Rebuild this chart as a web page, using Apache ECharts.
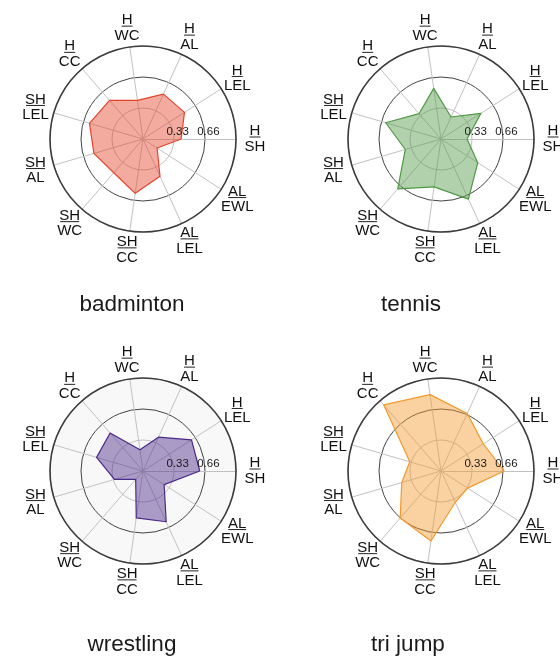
<!DOCTYPE html>
<html>
<head>
<meta charset="utf-8">
<script src="https://cdn.jsdelivr.net/npm/echarts/dist/echarts.min.js"></script>
<style>
  html, body { margin: 0; padding: 0; background: #ffffff; }
  #chart { width: 560px; height: 662px; }
</style>
</head>
<body>
<div id="chart"></div>
<script>
// Ratio axes, listed counter-clockwise starting from the right (H/SH)
const indicatorNames = ['H/SH', 'H/LEL', 'H/AL', 'H/WC', 'H/CC', 'SH/LEL', 'SH/AL', 'SH/WC', 'SH/CC', 'AL/LEL', 'AL/EWL'];

const sportNames = ['badminton', 'tennis', 'wrestling', 'tri jump'];

const badminton = [0.41, 0.53, 0.53, 0.42, 0.55, 0.60, 0.55, 0.48, 0.59, 0.44, 0.18];
const tennis    = [0.28, 0.51, 0.26, 0.55, 0.36, 0.62, 0.40, 0.71, 0.52, 0.71, 0.47];
const wrestling = [0.61, 0.62, 0.40, 0.23, 0.54, 0.52, 0.32, 0.12, 0.51, 0.60, 0.27];
const triJump   = [0.68, 0.54, 0.68, 0.83, 0.94, 0.35, 0.44, 0.67, 0.76, 0.37, 0.34];

const ringTicks = [0.33, 0.66];

const sportValues = [badminton, tennis, wrestling, triJump];
const lineColors = ['#e5442c', '#4f9a45', '#4b2a8a', '#f39a2e'];
const plateFill  = [null, null, '#f8f8f8', null];

// panel placement
const panels = [
  { cx: 143, cy: 139, tx: 132, ty: 305 },
  { cx: 441, cy: 139, tx: 411, ty: 305 },
  { cx: 143, cy: 471, tx: 132, ty: 645 },
  { cx: 441, cy: 471, tx: 408, ty: 645 }
];
const R = 93;
const FONT = '"Liberation Sans", Arial, Helvetica, sans-serif';

const chart = echarts.init(document.getElementById('chart'), null, { renderer: 'canvas' });

const labelRich = {
  n:   { fontSize: 15, lineHeight: 10, align: 'center', color: '#111', fontFamily: FONT },
  d:   { fontSize: 15, lineHeight: 17, align: 'center', color: '#111', fontFamily: FONT },
  uH:  { width: 11, height: 1, lineHeight: 2, fontSize: 1, backgroundColor: '#222', align: 'center' },
  uSH: { width: 19, height: 1, lineHeight: 2, fontSize: 1, backgroundColor: '#222', align: 'center' },
  uAL: { width: 18, height: 1, lineHeight: 2, fontSize: 1, backgroundColor: '#222', align: 'center' }
};

function fractionLabel(name) {
  const parts = name.split('/');
  return '{n|' + parts[0] + '}\n{u' + parts[0] + '| }\n{d|' + parts[1] + '}';
}

const radar = [], polar = [], angleAxis = [], radiusAxis = [], series = [], graphic = [];

panels.forEach(function (p, i) {
  radar.push({
    center: [p.cx, p.cy],
    radius: R,
    startAngle: 0,
    shape: 'circle',
    splitNumber: 3,
    indicator: indicatorNames.map(function (n) { return { name: n, min: 0, max: 1 }; }),
    axisName: {
      formatter: function (value) { return fractionLabel(value); },
      rich: labelRich,
      color: '#111',
      fontFamily: FONT,
      align: 'center',
      verticalAlign: 'middle',
      padding: [3, 0, 0, 0]
    },
    nameGap: 19,
    axisLine: { lineStyle: { color: '#c2c2c2', width: 1 } },
    splitLine: { lineStyle: { color: ['#c0c0c0', '#c0c0c0', '#444444'], width: 1 } },
    splitArea: plateFill[i]
      ? { show: true, areaStyle: { color: [plateFill[i]] } }
      : { show: false },
    axisTick: { show: false },
    axisLabel: { show: false }
  });

  polar.push({ center: [p.cx, p.cy], radius: R });
  angleAxis.push({
    polarIndex: i,
    type: 'value',
    min: 0,
    max: 360,
    startAngle: 0,
    axisLine: { show: true, lineStyle: { color: '#3c3c3c', width: 1.6 } },
    axisTick: { show: false },
    axisLabel: { show: false },
    splitLine: { show: false },
    z: 1
  });
  radiusAxis.push({
    polarIndex: i,
    type: 'value',
    min: 0,
    max: 1,
    interval: 0.33,
    axisLine: { show: false },
    axisTick: { show: false },
    splitLine: { show: false },
    axisLabel: {
      show: true,
      margin: 1,
      padding: [0, 0, 0, 8],
      fontSize: 11.5,
      color: '#1a1a1a',
      fontFamily: FONT,
      formatter: function (v) {
        const t = Math.round(v * 100) / 100;
        return ringTicks.indexOf(t) >= 0 ? t.toFixed(2) : '';
      }
    },
    z: 10
  });

  series.push({
    type: 'radar',
    radarIndex: i,
    symbol: 'none',
    lineStyle: { color: lineColors[i], width: 1.2 },
    areaStyle: { color: lineColors[i], opacity: 0.45 },
    data: [{ name: sportNames[i], value: sportValues[i] }],
    z: 3
  });

  graphic.push({
    type: 'text',
    x: p.tx,
    y: p.ty,
    style: {
      text: sportNames[i],
      fill: '#1a1a1a',
      font: '22.5px ' + FONT,
      textAlign: 'center',
      textVerticalAlign: 'middle'
    }
  });
});

chart.setOption({
  backgroundColor: '#ffffff',
  animation: false,
  radar: radar,
  polar: polar,
  angleAxis: angleAxis,
  radiusAxis: radiusAxis,
  series: series,
  graphic: graphic
});
</script>
</body>
</html>
